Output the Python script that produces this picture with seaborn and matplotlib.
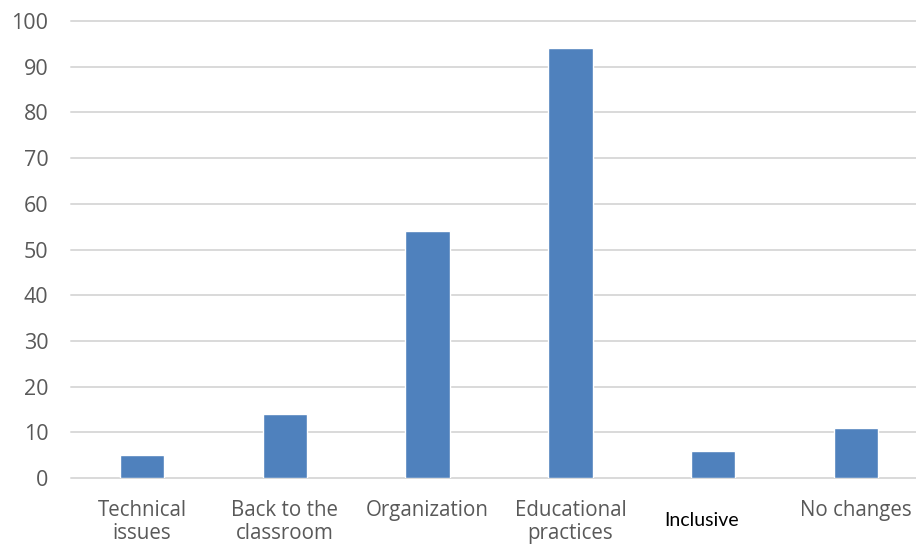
import seaborn as sns
import matplotlib.pyplot as plt
import matplotlib.transforms as mtransforms

categories = ["Technical\nissues", "Back to the\nclassroom", "Organization",
              "Educational\npractices", "Inclusive", "No changes"]
values = [5, 14, 54, 94, 6, 11]
yticks = [0, 10, 20, 30, 40, 50, 60, 70, 80, 90, 100]

sns.set_style("white")
plt.rcParams['font.family'] = ['Open Sans', 'DejaVu Sans']

fig = plt.figure(figsize=(9.16, 5.48), dpi=100)
ax = fig.add_axes([70.6 / 916, 70 / 548, 856.8 / 916, 457 / 548])

sns.barplot(x=categories, y=values, color='#4f81bd', saturation=1,
            width=0.31, ax=ax, zorder=3)

ax.set_ylim(0, 100)
ax.set_yticks(yticks)
ax.yaxis.grid(True, color='#d9d9d9', linewidth=1.4)
ax.xaxis.grid(False)
ax.set_axisbelow(True)
for line in ax.get_ygridlines():
    line.set_clip_on(False)
for s in ax.spines.values():
    s.set_visible(False)

ax.tick_params(axis='y', length=0, pad=16, labelsize=15.5, labelcolor='#595959')
ax.tick_params(axis='x', length=0, pad=16, labelsize=14.8, labelcolor='#595959')
for lab in ax.get_xticklabels():
    lab.set_linespacing(1.08)

# the "Inclusive" label is set in a different font, black and a bit lower
inc = ax.get_xticklabels()[4]
inc.set_fontfamily(['Lato', 'DejaVu Sans'])
inc.set_color('black')
inc.set_fontsize(14)
inc.set_transform(inc.get_transform() +
                  mtransforms.ScaledTranslation(-12 / 100, -12 / 100, fig.dpi_scale_trans))

ax.set_xlabel('')
ax.set_ylabel('')

fig.savefig('out.png', dpi=100)
